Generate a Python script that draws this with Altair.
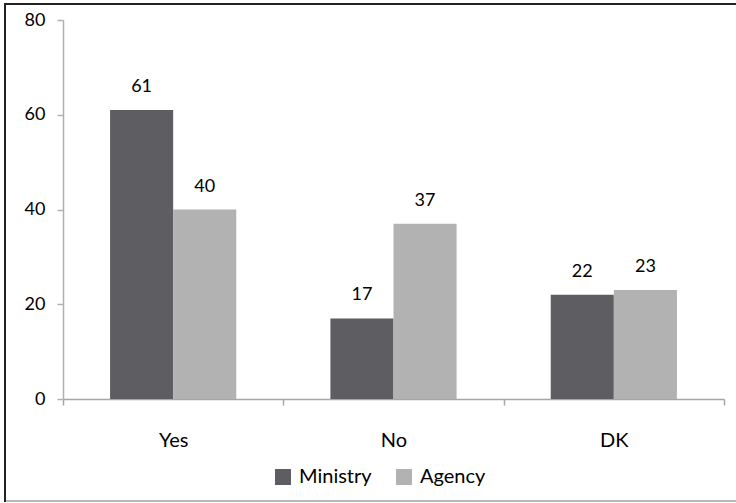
import altair as alt
import pandas as pd

categories = ["Yes", "No", "DK"]
ministry = [61, 17, 22]
agency = [40, 37, 23]
series = ["Ministry", "Agency"]
colors = ["#5e5e62", "#b2b2b2"]

rows = []
for i, c in enumerate(categories):
    rows.append({"cat": c, "group": "Ministry", "value": ministry[i]})
    rows.append({"cat": c, "group": "Agency", "value": agency[i]})
df = pd.DataFrame(rows)

FONT = "Lato"

x = alt.X("cat:N", sort=categories, title=None,
          scale=alt.Scale(paddingInner=0, paddingOuter=0),
          axis=alt.Axis(labelAngle=0, tickBand="extent", tickSize=6, domainColor="#a6a6a6",
                        tickColor="#a6a6a6", labelFont=FONT, labelFontSize=20, labelColor="#000000",
                        labelPadding=25, domainWidth=1.5, tickWidth=1.5))
y = alt.Y("value:Q", title=None,
          scale=alt.Scale(domain=[0, 80], nice=False),
          axis=alt.Axis(values=[0, 20, 40, 60, 80], grid=False, tickSize=6, domainColor="#b0b0b0",
                        tickColor="#b0b0b0", labelFont=FONT, labelFontSize=18, labelColor="#000000",
                        labelPadding=12, domainWidth=1.5, tickWidth=1.5))
xo = alt.XOffset("group:N", sort=series, scale=alt.Scale(paddingInner=0, paddingOuter=0.746))

bars = alt.Chart(df).mark_bar().encode(
    x=x, y=y, xOffset=xo,
    color=alt.Color("group:N", sort=series,
                    scale=alt.Scale(domain=series, range=colors),
                    legend=alt.Legend(title=None, orient="none", direction="horizontal",
                                      legendX=210, legendY=447, symbolType="square",
                                      symbolSize=256, symbolStrokeWidth=0,
                                      labelFont=FONT, labelFontSize=20, labelColor="#000000",
                                      columnPadding=22, labelOffset=6)),
)

labels = alt.Chart(df).mark_text(baseline="bottom", dy=-14, font=FONT, fontSize=18, color="#000000").encode(
    x=alt.X("cat:N", sort=categories), y="value:Q", xOffset=xo, text="value:Q"
)

frame = alt.Chart(pd.DataFrame({"a": [0]})).mark_rect(
    fill=None, stroke="#222222", strokeWidth=2
).encode(x=alt.value(-58), x2=alt.value(700), y=alt.value(-16), y2=alt.value(481))

bottom = alt.Chart(pd.DataFrame({"a": [0]})).mark_rule(
    stroke="#b8b8b8", strokeWidth=2
).encode(x=alt.value(-57), x2=alt.value(700), y=alt.value(481))

chart = alt.layer(frame, bottom, bars, labels).properties(
    width=661, height=379,
    autosize=alt.AutoSizeParams(type="none"),
    padding={"left": 63, "top": 20, "right": 12, "bottom": 104},
).configure_view(stroke=None)

chart.save("out.html", embed_options={"renderer": "svg", "actions": False})
